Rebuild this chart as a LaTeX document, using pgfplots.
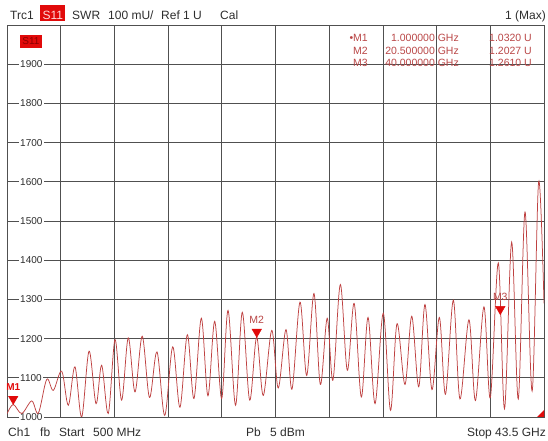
\documentclass[border=0pt]{standalone}
\usepackage{pgfplots}
\pgfplotsset{compat=1.18}
\usepackage{pgfplotstable}
\usepackage{fontspec}
\setmainfont{Liberation Sans}
\definecolor{trace}{RGB}{190,65,65}
\definecolor{gridc}{RGB}{80,80,80}
\definecolor{mkred}{RGB}{225,10,10}
\definecolor{mtext}{RGB}{185,70,70}
\definecolor{lbl}{RGB}{45,45,45}

% S11 SWR trace (GHz, mU)
\pgfplotstableread{
f v
0.52 1009
1.00 1032
1.68 1009
2.48 1041
3.01 1010
3.68 1096
4.21 1068
4.88 1117
5.41 1030
5.94 1128
6.48 1000
7.07 1168
7.63 1034
8.08 1132
8.61 1009
9.15 1197
9.68 1043
10.21 1202
10.75 1064
11.33 1206
11.91 1050
12.51 1166
13.13 1004
13.77 1179
14.35 1025
14.94 1210
15.47 1047
16.06 1252
16.59 1054
17.13 1244
17.69 1047
18.20 1272
18.80 1030
19.34 1267
19.93 1043
20.49 1204
21.02 1055
21.70 1221
22.22 1074
22.84 1223
23.32 1071
23.96 1293
24.50 1106
25.08 1315
25.59 1083
26.14 1252
26.60 1094
27.19 1338
27.75 1119
28.30 1290
28.87 1051
29.41 1254
29.97 1034
30.63 1265
31.21 1017
31.73 1238
32.37 1083
32.91 1257
33.47 1077
33.97 1287
34.53 1070
35.12 1254
35.61 1058
36.24 1298
36.77 1046
37.49 1248
38.01 1042
38.69 1281
39.20 1049
39.84 1393
40.34 1021
40.91 1446
41.44 1046
41.98 1523
42.55 1066
43.07 1600
43.50 1290
}\trace

\begin{document}
\begin{tikzpicture}
\useasboundingbox (0,0) rectangle (548pt,441pt);
\begin{axis}[
  at={(7pt,24pt)}, anchor=south west,
  width=537pt, height=392pt, scale only axis,
  xmin=0.5, xmax=43.5, ymin=1000, ymax=2000,
  xtick={0.5,4.8,9.1,13.4,17.7,22,26.3,30.6,34.9,39.2,43.5},
  xticklabels={},
  ytick={1000,1100,...,1900},
  major tick length=0pt,
  grid=major,
  major grid style={gridc, line width=0.8pt},
  axis line style={gridc, line width=0.8pt},
  yticklabel style={anchor=west, xshift=11.5pt, fill=white, inner sep=1.5pt,
    font=\fontsize{10}{10}\selectfont, text=lbl},
  /pgf/number format/assume math mode=true,
  /pgf/number format/1000 sep={},
]
\addplot[trace, line width=0.75pt, smooth, tension=0.55] table[x=f, y=v] {\trace};

\addplot[only marks, mark=triangle*, mark size=5.5pt,
  mark options={yshift=5.5pt, rotate=180, fill=mkred, draw=mkred},
  nodes near coords, point meta=explicit symbolic,
  nodes near coords style={anchor=south, yshift=7pt, inner sep=1pt,
    font=\bfseries\fontsize{10}{10}\selectfont, text=mkred}]
  coordinates {(1.0,1032) [M1]};
\addplot[only marks, mark=triangle*, mark size=5.5pt,
  mark options={yshift=5.5pt, rotate=180, fill=mkred, draw=mkred},
  nodes near coords, point meta=explicit symbolic,
  nodes near coords style={anchor=south, yshift=7pt, inner sep=1pt,
    font=\fontsize{10.5}{10.5}\selectfont, text=mtext}]
  coordinates {(20.5,1203) [M2] (40.0,1261) [M3]};
\end{axis}

\begin{scope}[shift={(0pt,441pt)}, x=1pt, y=-1pt]
  % header
  \begin{scope}[every node/.style={anchor=base west, inner sep=0pt,
      font=\fontsize{12}{12}\selectfont, text=lbl}]
    \node at (10,19.5) {Trc1};
    \fill[mkred] (40,5) rectangle (65,21);
    \node[text=white!85!red] at (42.5,19.5) {S11};
    \node at (72,19.5) {SWR};
    \node at (108,19.5) {100 mU/};
    \node at (161,19.5) {Ref 1 U};
    \node at (220,19.5) {Cal};
    \node[anchor=base east] at (546,19.5) {1 (Max)};
  \end{scope}
  % footer
  \begin{scope}[every node/.style={anchor=base west, inner sep=0pt,
      font=\fontsize{12}{12}\selectfont, text=lbl}]
    \node at (8,436) {Ch1};
    \node at (40,436) {fb};
    \node at (59,436) {Start};
    \node at (93,436) {500 MHz};
    \node at (246,436) {Pb};
    \node at (270,436) {5 dBm};
    \node at (467,436) {Stop};
    \node[anchor=base east] at (546,436) {43.5 GHz};
  \end{scope}
  % trace tag inside the diagram
  \fill[mkred] (20,35) rectangle (42,48);
  \node[anchor=center, inner sep=0pt, font=\fontsize{10}{10}\selectfont,
    text=red!55!black] at (31,41.5) {S11};
  % marker list
  \begin{scope}[every node/.style={anchor=base east, inner sep=0pt,
      font=\fontsize{10.5}{10.5}\selectfont, text=mtext}]
    \node at (368,42) {•M1};
    \node at (459,42) {1.000000 GHz};
    \node at (532,42) {1.0320 U};
    \node at (368,54.5) {M2};
    \node at (459,54.5) {20.500000 GHz};
    \node at (532,54.5) {1.2027 U};
    \node at (368,67) {M3};
    \node at (459,67) {40.000000 GHz};
    \node at (532,67) {1.2610 U};
  \end{scope}
  % over-range flag in the corner
  \fill[mkred] (537,417) -- (544,417) -- (544,410) -- cycle;
\end{scope}
\end{tikzpicture}
\end{document}
